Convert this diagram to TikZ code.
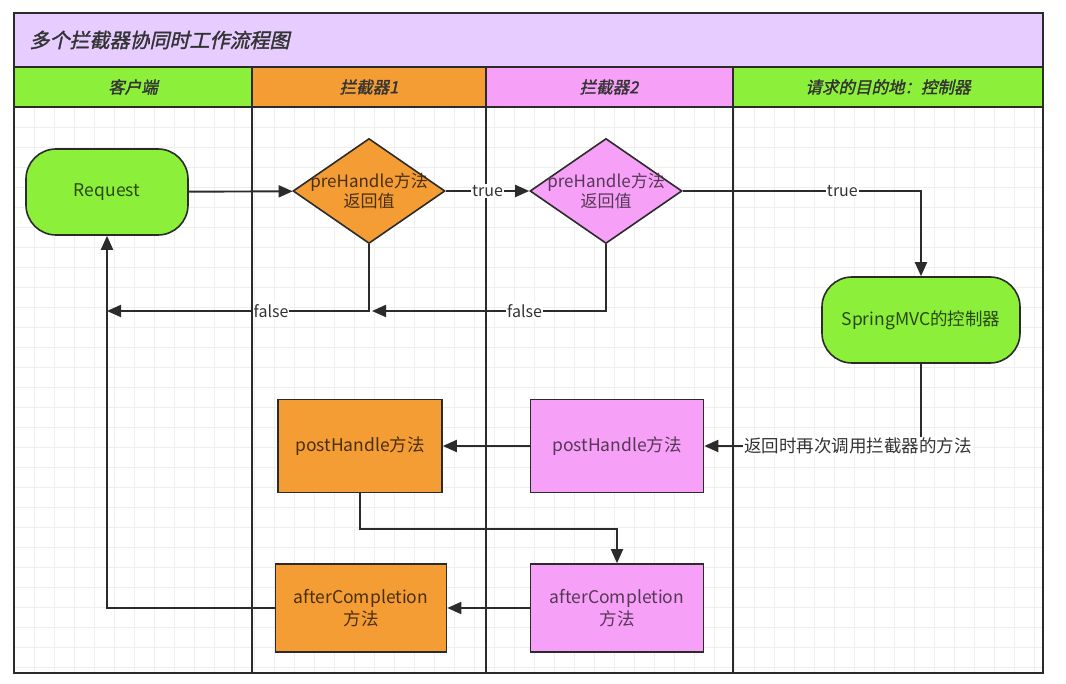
\documentclass[tikz,border=0pt]{standalone}
\usepackage{fontspec}
\setmainfont{Noto Sans CJK SC}
\newfontfamily\headfont[FakeSlant=0.22,FakeBold=1.6]{Noto Sans CJK SC}
\usetikzlibrary{arrows.meta,shapes.geometric}
\definecolor{lanegreen}{HTML}{8CF03A}
\definecolor{laneorange}{HTML}{F59D35}
\definecolor{lanepink}{HTML}{F7A0F7}
\definecolor{titlebg}{HTML}{E6CCFF}
\definecolor{linegray}{HTML}{2B2B2B}

\begin{document}
\begin{tikzpicture}[x=1pt,y=-1pt,
  gridline/.style={draw=gray!13,line width=0.7pt},
  lane/.style={draw=linegray,line width=1.8pt},
  hdr/.style={font=\headfont\fontsize{16.5}{18}\selectfont,text=black!80},
  term/.style={draw=linegray,line width=1.6pt,rounded corners=30pt,minimum width=162pt,minimum height=86pt,font=\fontsize{17.5}{21}\selectfont},
  decide/.style={diamond,draw=linegray,line width=1.6pt,minimum width=152pt,minimum height=105pt,inner sep=0pt},
  dtext/.style={align=center,font=\fontsize{17}{20}\selectfont},
  box/.style={draw=linegray,line width=1.6pt,minimum width=164pt,minimum height=93pt,align=center,font=\fontsize{17.5}{22}\selectfont},
  flow/.style={draw=linegray,line width=1.9pt,-{Triangle[length=14pt,width=12pt]}},
  elabel/.style={fill=white,inner sep=1pt,font=\fontsize{16}{18}\selectfont,text=black!80}
]
\useasboundingbox (0,0) rectangle (1066,684);

% title and lane headers
\fill[titlebg] (14,13) rectangle (1043,67);
\node[hdr,anchor=west,font=\headfont\fontsize{20}{22}\selectfont] (title) at (26,40) {多个拦截器协同时工作流程图};
\fill[lanegreen] (14,67) rectangle (252,107);
\fill[laneorange] (252,67) rectangle (486,107);
\fill[lanepink] (486,67) rectangle (733,107);
\fill[lanegreen] (733,67) rectangle (1043,107);
\node[hdr] (lane1) at (133,87) {客户端};
\node[hdr] (lane2) at (369,87) {拦截器1};
\node[hdr] (lane3) at (609,87) {拦截器2};
\node[hdr] (lane4) at (888,87) {请求的目的地：控制器};

% grid
\foreach \gx in {34,54,...,1034}
  \draw[gridline] (\gx,107) -- (\gx,673);
\foreach \gy in {127,147,...,667}
  \draw[gridline] (14,\gy) -- (1043,\gy);

% lanes
\draw[lane] (14,13) rectangle (1043,673);
\draw[lane] (14,67) -- (1043,67);
\draw[lane] (14,107) -- (1043,107);
\foreach \lx in {252,486,733}
  \draw[lane] (\lx,67) -- (\lx,673);

% nodes
\node[term,fill=lanegreen,text=lanegreen!30!black] (req) at (107,192) {Request};
\node[decide,fill=laneorange,label={[dtext,text=laneorange!30!black]center:{preHandle方法\\返回值}}] (pre1) at (369,191) {};
\node[decide,fill=lanepink,label={[dtext,text=lanepink!35!black]center:{preHandle方法\\返回值}}] (pre2) at (606,191) {};
\node[term,fill=lanegreen,text=lanegreen!30!black,minimum width=198pt] (ctrl) at (921,320) {SpringMVC的控制器};
\node[box,fill=laneorange,text=laneorange!30!black] (post1) at (360,446) {postHandle方法};
\node[box,fill=lanepink,text=lanepink!35!black,minimum width=173pt] (post2) at (617,446) {postHandle方法};
\node[box,fill=laneorange,text=laneorange!30!black,minimum width=171pt,minimum height=88pt] (after1) at (361,608) {afterCompletion\\方法};
\node[box,fill=lanepink,text=lanepink!35!black,minimum width=173pt,minimum height=88pt] (after2) at (617,608) {afterCompletion\\方法};

% connectors
\coordinate (back1) at (107,311);
\coordinate (back2) at (372,311);
\draw[flow] (req) -- (pre1);
\draw[flow] (pre1) -- node[elabel] {true} (pre2);
\draw[flow] (pre2.east) -| node[elabel,pos=0.335] {true} (ctrl.north);
\draw[flow] (pre1.south) |- node[elabel,pos=0.687] {false} (back1);
\draw[flow] (pre2.south) |- node[elabel,pos=0.674] {false} (back2);
\draw[flow] (ctrl.south) |- node[elabel,pos=0.645,font=\fontsize{17.5}{19}\selectfont] {返回时再次调用拦截器的方法} (post2.east);
\draw[flow] (post2) -- (post1);
\draw[flow] (post1.south) -- ++(0,36) -| (after2.north);
\draw[flow] (after2) -- (after1);
\draw[flow] (after1.west) -| (req.south);
\end{tikzpicture}
\end{document}
